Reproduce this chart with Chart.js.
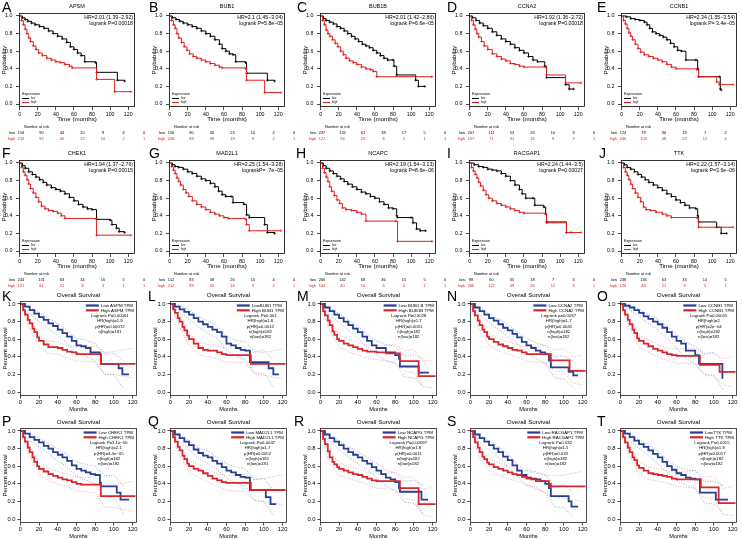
<!DOCTYPE html>
<html>
<head>
<meta charset="utf-8">
<title>Survival curves</title>
<script src="https://cdn.jsdelivr.net/npm/chart.js@4.4.1/dist/chart.umd.min.js"></script>
<style>
  html, body { margin: 0; padding: 0; background: #fff; }
  body { position: relative; width: 742px; height: 539px; overflow: hidden; }
  canvas { position: absolute; }
  .tag { position: absolute; font: 14px 'Liberation Sans', Arial, sans-serif; line-height: 14px; color: #000; }
</style>
</head>
<body>
<script>
// ---------- tick labels ----------
const monthTicks = [0, 20, 40, 60, 80, 100, 120];
const probTicks = [0, 0.2, 0.4, 0.6, 0.8, 1.0];
const ciMonths = [0, 10, 20, 30, 40, 50, 60, 70, 80, 90, 100, 110, 120];

// ---------- KM plotter panels (A-J) ----------
const kmLetters = ['A', 'B', 'C', 'D', 'E', 'F', 'G', 'H', 'I', 'J'];
const kmGenes = ['APSM', 'BUB1', 'BUB1B', 'CCNA2', 'CCNB1', 'CHEK1', 'MAD2L1', 'NCAPC', 'RACGAP1', 'TTK'];
const kmHR = ['HR=2.01 (1.39\u22122.92)', 'HR=2.1 (1.45\u22123.04)', 'HR=2.01 (1.42\u22122.86)', 'HR=1.92 (1.36\u22122.72)', 'HR=2.34 (1.55\u22123.54)',
  'HR=1.94 (1.37\u22122.76)', 'HR=2.25 (1.54\u22123.28)', 'HR=2.19 (1.54\u22123.13)', 'HR=2.24 (1.44\u22123.5)', 'HR=2.22 (1.57\u22123.14)'];
const kmP = ['logrank P=0.00018', 'logrank P=5.8e\u221205', 'logrank P=6.6e\u221205', 'logrank P=0.00018', 'logrank P= 3.4e\u221205',
  'logrank P=0.00015', 'logrankP= .7e\u221205', 'logrank P=8.6e\u221206', 'logrank P=0.00027', 'logrank P=3.6e\u221206'];
const riskLow = [
  [154, 90, 44, 20, 9, 4, 0], [156, 90, 46, 23, 10, 4, 0], [237, 126, 61, 38, 17, 5, 0], [207, 111, 53, 26, 10, 3, 0], [124, 79, 36, 19, 7, 2, 0],
  [243, 131, 63, 34, 16, 5, 0], [152, 83, 49, 26, 10, 4, 0], [260, 142, 68, 36, 15, 5, 0], [98, 60, 35, 18, 7, 3, 0], [238, 134, 63, 33, 14, 5, 0]];
const riskHigh = [
  [210, 92, 40, 22, 10, 2, 1], [206, 89, 38, 19, 9, 2, 1], [127, 56, 23, 6, 2, 1, 1], [157, 71, 31, 16, 9, 3, 1], [240, 103, 48, 23, 12, 4, 1],
  [121, 61, 21, 8, 3, 1, 1], [212, 99, 35, 16, 9, 2, 1], [104, 40, 16, 6, 4, 1, 1], [266, 122, 49, 26, 12, 3, 1], [126, 48, 21, 9, 5, 1, 1]];

// survival curves: [month, probability after the step]
const apsmLow = [[0,1],[3,0.98],[6,0.96],[9,0.94],[13,0.92],[17,0.90],[22,0.88],[27,0.86],[32,0.83],[37,0.80],[42,0.77],[47,0.74],[52,0.70],[56,0.65],[60,0.62],[64,0.58],[68,0.55],[72,0.48],[84,0.47],[85,0.36],[108,0.27],[116,0.26]];
const apsmHigh = [[0,1],[2,0.95],[4,0.90],[6,0.85],[8,0.80],[10,0.75],[12,0.71],[15,0.66],[18,0.62],[21,0.58],[25,0.55],[30,0.52],[35,0.50],[40,0.48],[45,0.47],[50,0.45],[55,0.43],[58,0.41],[85,0.28],[105,0.14],[123,0.14]];
const bub1Low = [[0,1],[3,0.98],[7,0.96],[11,0.94],[15,0.92],[20,0.90],[25,0.88],[30,0.86],[35,0.83],[40,0.80],[45,0.77],[50,0.73],[55,0.68],[58,0.63],[62,0.60],[66,0.57],[70,0.56],[73,0.48],[84,0.47],[85,0.35],[108,0.27],[116,0.26]];
const bub1High = [[0,1],[2,0.95],[4,0.90],[6,0.86],[8,0.80],[10,0.75],[13,0.70],[16,0.65],[19,0.61],[22,0.57],[26,0.54],[30,0.52],[35,0.50],[40,0.48],[45,0.46],[50,0.44],[55,0.42],[58,0.41],[84,0.40],[85,0.27],[105,0.13],[123,0.13]];
const bub1bLow = [[0,1],[3,0.97],[6,0.95],[10,0.93],[14,0.91],[18,0.88],[22,0.86],[26,0.83],[30,0.80],[34,0.77],[38,0.74],[42,0.71],[46,0.68],[50,0.66],[54,0.64],[58,0.61],[62,0.58],[66,0.55],[70,0.52],[74,0.50],[80,0.50],[81,0.43],[84,0.33],[105,0.27],[108,0.20],[115,0.20]];
const bub1bHigh = [[0,1],[2,0.95],[4,0.90],[6,0.84],[8,0.80],[10,0.77],[13,0.73],[16,0.69],[19,0.65],[22,0.60],[25,0.56],[28,0.52],[32,0.49],[36,0.47],[40,0.45],[45,0.42],[50,0.40],[55,0.39],[58,0.37],[62,0.31],[123,0.31]];
const ccna2Low = [[0,1],[3,0.98],[7,0.95],[11,0.92],[15,0.89],[20,0.86],[25,0.82],[30,0.78],[35,0.74],[40,0.71],[45,0.68],[50,0.64],[55,0.61],[60,0.58],[65,0.54],[70,0.50],[75,0.48],[83,0.43],[85,0.30],[106,0.22],[110,0.17],[115,0.17]];
const ccna2High = [[0,1],[2,0.95],[4,0.90],[6,0.85],[8,0.80],[10,0.76],[13,0.71],[16,0.66],[20,0.62],[25,0.57],[30,0.54],[35,0.51],[40,0.49],[45,0.46],[50,0.45],[55,0.43],[60,0.42],[84,0.42],[85,0.33],[106,0.24],[123,0.24]];
const ccnb1Low = [[0,1],[5,0.99],[10,0.97],[15,0.96],[20,0.95],[25,0.93],[28,0.90],[31,0.86],[34,0.82],[38,0.80],[42,0.78],[46,0.76],[50,0.73],[54,0.69],[58,0.65],[62,0.61],[66,0.60],[71,0.50],[82,0.50],[84,0.40],[85,0.31],[108,0.31],[109,0.17],[110,0.16]];
const ccnb1High = [[0,1],[2,0.95],[4,0.91],[6,0.86],[8,0.81],[10,0.77],[12,0.73],[15,0.68],[18,0.63],[21,0.59],[25,0.56],[30,0.54],[35,0.52],[40,0.50],[45,0.48],[50,0.45],[55,0.42],[60,0.40],[83,0.39],[85,0.31],[105,0.25],[108,0.22],[123,0.22]];
const chek1Low = [[0,1],[3,0.97],[6,0.94],[10,0.90],[14,0.87],[18,0.84],[22,0.81],[26,0.78],[30,0.75],[35,0.72],[40,0.70],[45,0.68],[50,0.65],[55,0.61],[60,0.57],[65,0.53],[70,0.50],[75,0.48],[80,0.47],[85,0.36],[100,0.35],[102,0.30],[107,0.26],[110,0.22],[116,0.21]];
const chek1High = [[0,1],[2,0.95],[4,0.90],[6,0.86],[8,0.81],[10,0.76],[12,0.71],[15,0.66],[18,0.61],[21,0.56],[24,0.51],[28,0.48],[32,0.46],[37,0.45],[42,0.43],[46,0.40],[50,0.37],[85,0.18],[123,0.18]];
const mad2l1Low = [[0,1],[3,0.98],[6,0.96],[10,0.95],[15,0.93],[20,0.90],[25,0.88],[30,0.85],[35,0.82],[40,0.80],[45,0.77],[50,0.73],[54,0.68],[58,0.64],[62,0.62],[68,0.62],[70,0.55],[82,0.53],[85,0.41],[88,0.38],[105,0.30],[108,0.21],[116,0.20]];
const mad2l1High = [[0,1],[2,0.96],[4,0.92],[6,0.88],[8,0.83],[10,0.79],[12,0.75],[15,0.70],[18,0.66],[21,0.62],[25,0.57],[30,0.53],[35,0.50],[40,0.47],[45,0.44],[50,0.42],[55,0.40],[60,0.38],[65,0.37],[84,0.36],[85,0.30],[88,0.23],[123,0.23]];
const ncapcLow = [[0,1],[3,0.97],[6,0.94],[10,0.91],[14,0.88],[18,0.85],[22,0.82],[26,0.79],[30,0.76],[35,0.73],[40,0.70],[45,0.67],[50,0.65],[55,0.62],[60,0.60],[65,0.56],[70,0.53],[75,0.49],[80,0.48],[84,0.40],[85,0.38],[100,0.38],[102,0.32],[106,0.25],[110,0.23],[116,0.23]];
const ncapcHigh = [[0,1],[2,0.94],[4,0.89],[6,0.84],[8,0.79],[10,0.73],[12,0.68],[15,0.63],[18,0.58],[21,0.54],[24,0.49],[28,0.47],[34,0.46],[40,0.44],[45,0.42],[50,0.34],[83,0.34],[85,0.11],[123,0.11]];
const racgap1Low = [[0,1],[5,0.98],[10,0.96],[15,0.95],[20,0.93],[25,0.92],[30,0.91],[35,0.88],[40,0.85],[45,0.80],[50,0.75],[55,0.70],[58,0.65],[62,0.60],[70,0.60],[72,0.52],[82,0.50],[84,0.42],[85,0.33],[107,0.21],[112,0.21]];
const racgap1High = [[0,1],[2,0.95],[4,0.91],[6,0.87],[8,0.83],[10,0.78],[12,0.74],[15,0.69],[18,0.64],[21,0.60],[25,0.57],[30,0.54],[35,0.52],[40,0.50],[45,0.48],[50,0.46],[55,0.44],[60,0.43],[84,0.42],[85,0.32],[107,0.21],[123,0.21]];
const ttkLow = [[0,1],[3,0.98],[6,0.95],[10,0.93],[14,0.90],[18,0.87],[22,0.84],[26,0.81],[30,0.78],[35,0.75],[40,0.72],[45,0.69],[50,0.65],[55,0.62],[60,0.58],[65,0.55],[70,0.52],[75,0.49],[82,0.48],[84,0.40],[85,0.33],[105,0.27],[110,0.20],[116,0.20]];
const ttkHigh = [[0,1],[2,0.95],[4,0.90],[6,0.86],[8,0.81],[10,0.76],[12,0.71],[15,0.66],[18,0.61],[21,0.56],[24,0.50],[27,0.47],[32,0.46],[38,0.44],[45,0.42],[50,0.40],[55,0.38],[84,0.37],[85,0.27],[123,0.27]];

const kmLow = [apsmLow, bub1Low, bub1bLow, ccna2Low, ccnb1Low, chek1Low, mad2l1Low, ncapcLow, racgap1Low, ttkLow];
const kmHigh = [apsmHigh, bub1High, bub1bHigh, ccna2High, ccnb1High, chek1High, mad2l1High, ncapcHigh, racgap1High, ttkHigh];

// ---------- GEPIA panels (K-T) ----------
const gLetters = ['K', 'L', 'M', 'N', 'O', 'P', 'Q', 'R', 'S', 'T'];
const gLegendLow = ['Low ASPM TPM', 'LowBUB1 TPM', 'Low BUB1 B TPM', 'Low CCNA2 TPM', 'Low CCNB1 TPM', 'Low CHEK1 TPM', 'Low MAD2L1 TPM', 'Low NCAPG TPM', 'Low RACGAP1 TPM', 'LowTTK TPM'];
const gLegendHigh = ['High ASPM TPM', 'High BUB1 TPM', 'High BUB1B TPM', 'High CCNA2 TPM', 'High CCNB1 TPM', 'High CHEK1 TPM', 'High MAD2L1 TPM', 'High NCAPG TPM', 'High RACGAP1 TPM', 'High TTK TPM'];
const gStats = [
  ['Logrank P=0.00061', 'HR(high)=1.9', 'p(HR)=0.00072', 'n(high)=181'],
  ['Logrank P=0.001', 'HR(high)=1.8', 'p(HR)=0.0012', 'n(high)=182', 'n(low)=182'],
  ['Logrank P=0.0028', 'HR(high)=1.7', 'p(HR)=0.0031', 'n(high)=182', 'n(low)=182'],
  ['Logrank p=0.0037', 'HR(high)=1.7', 'p(HR)=0.0041', 'n(high)=182', 'n(low)=182'],
  ['Logrank P=0.00015', 'HR(high)=2', 'p(HR)=2e\u221204', 'n(high)=182', 'n(low)=182'],
  ['Logrank P=3.1e\u221205', 'HR(high)=2.1', 'p(HR)=4.4e\u221205', 'n(high)=182', 'n(low)=182'],
  ['Logrank P=0.0047', 'HR(high)=1.7', 'p(HR)=0.0052', 'n(high)=181', 'n(low)=181'],
  ['Logrank P=0.00097', 'HR(high)=1.8', 'p(HR)=0.0011', 'n(high)=182', 'n(low)=182'],
  ['Logrank P=0.032', 'HR(high)=1.5', 'p(HR)=0.033', 'n(high)=182', 'n(low)=182'],
  ['Logrank P=0.0015', 'HR(high)=1.8', 'p(HR)=0.0017', 'n(high)=182', 'n(low)=182']];

const aspmG = [[0,1],[5,0.97],[10,0.93],[15,0.89],[20,0.85],[25,0.82],[30,0.78],[35,0.75],[40,0.71],[45,0.67],[50,0.63],[55,0.58],[60,0.53],[65,0.52],[70,0.50],[75,0.45],[85,0.43],[86,0.32],[105,0.27],[109,0.20],[116,0.20]];
const aspmGHigh = [[0,1],[3,0.93],[5,0.88],[8,0.82],[10,0.78],[13,0.72],[15,0.68],[18,0.62],[20,0.58],[25,0.54],[30,0.51],[40,0.50],[45,0.48],[50,0.46],[55,0.45],[60,0.43],[86,0.32],[123,0.32]];
const bub1G = [[0,1],[5,0.97],[10,0.94],[15,0.91],[20,0.88],[25,0.84],[30,0.80],[35,0.77],[40,0.74],[45,0.71],[50,0.68],[55,0.63],[60,0.55],[65,0.53],[70,0.50],[75,0.48],[80,0.47],[85,0.34],[105,0.27],[110,0.20],[116,0.20]];
const bub1GHigh = [[0,1],[3,0.94],[5,0.90],[8,0.84],[10,0.80],[13,0.74],[15,0.70],[18,0.64],[20,0.60],[25,0.55],[30,0.50],[35,0.48],[40,0.47],[50,0.45],[55,0.43],[60,0.42],[86,0.32],[123,0.32]];
const bub1bG = [[0,1],[5,0.96],[10,0.92],[15,0.88],[20,0.84],[25,0.80],[30,0.76],[35,0.72],[40,0.68],[45,0.63],[50,0.58],[55,0.53],[60,0.50],[70,0.45],[80,0.42],[84,0.38],[85,0.29],[105,0.22],[116,0.22]];
const bub1bGHigh = [[0,1],[3,0.92],[5,0.87],[8,0.81],[10,0.76],[13,0.69],[15,0.65],[18,0.60],[20,0.58],[25,0.55],[30,0.53],[35,0.51],[40,0.49],[45,0.47],[50,0.46],[60,0.45],[70,0.44],[85,0.35],[105,0.18],[123,0.18]];
const ccna2G = [[0,1],[5,0.96],[10,0.92],[15,0.88],[20,0.84],[25,0.81],[30,0.77],[35,0.73],[40,0.70],[45,0.66],[50,0.62],[55,0.57],[60,0.53],[65,0.50],[70,0.47],[75,0.45],[80,0.43],[84,0.36],[86,0.28],[105,0.23],[110,0.19],[115,0.19]];
const ccna2GHigh = [[0,1],[3,0.92],[5,0.87],[8,0.81],[10,0.76],[13,0.71],[15,0.68],[18,0.63],[20,0.60],[25,0.57],[30,0.54],[35,0.52],[40,0.50],[45,0.48],[50,0.47],[55,0.45],[60,0.43],[84,0.43],[86,0.36],[106,0.24],[123,0.24]];
const ccnb1G = [[0,1],[5,0.98],[10,0.96],[15,0.93],[20,0.90],[25,0.86],[30,0.83],[35,0.80],[40,0.77],[45,0.73],[50,0.68],[55,0.63],[60,0.58],[65,0.55],[70,0.47],[80,0.42],[84,0.32],[108,0.32],[109,0.16],[110,0.16]];
const ccnb1GHigh = [[0,1],[3,0.93],[5,0.88],[8,0.82],[10,0.77],[13,0.71],[15,0.67],[18,0.61],[20,0.58],[25,0.55],[30,0.52],[35,0.49],[40,0.47],[45,0.45],[50,0.43],[55,0.42],[60,0.41],[84,0.41],[85,0.31],[106,0.23],[123,0.23]];
const chek1G = [[0,1],[5,0.97],[10,0.93],[15,0.90],[20,0.87],[25,0.83],[30,0.80],[35,0.76],[40,0.73],[45,0.70],[50,0.66],[55,0.61],[60,0.57],[65,0.55],[70,0.53],[75,0.51],[80,0.50],[85,0.41],[86,0.37],[103,0.30],[107,0.22],[116,0.22]];
const chek1GHigh = [[0,1],[3,0.93],[5,0.88],[8,0.81],[10,0.76],[13,0.70],[15,0.65],[18,0.60],[20,0.57],[25,0.54],[30,0.51],[35,0.49],[40,0.47],[45,0.45],[50,0.44],[55,0.42],[60,0.40],[65,0.39],[86,0.26],[123,0.26]];
const mad2l1G = [[0,1],[5,0.96],[10,0.92],[15,0.88],[20,0.84],[25,0.79],[30,0.75],[35,0.72],[40,0.70],[45,0.66],[50,0.63],[55,0.59],[60,0.55],[65,0.53],[70,0.50],[75,0.48],[80,0.47],[85,0.33],[102,0.25],[107,0.17],[113,0.17]];
const mad2l1GHigh = [[0,1],[3,0.93],[5,0.88],[8,0.82],[10,0.78],[13,0.72],[15,0.68],[18,0.63],[20,0.60],[25,0.57],[30,0.55],[35,0.52],[40,0.49],[45,0.46],[50,0.44],[55,0.42],[60,0.41],[86,0.33],[123,0.33]];
const ncapgG = [[0,1],[5,0.96],[10,0.92],[15,0.88],[20,0.84],[25,0.80],[30,0.76],[35,0.73],[40,0.70],[45,0.66],[50,0.63],[55,0.59],[60,0.55],[65,0.51],[70,0.47],[75,0.45],[80,0.42],[84,0.35],[85,0.31],[108,0.22],[115,0.22]];
const ncapgGHigh = [[0,1],[3,0.91],[5,0.85],[8,0.77],[10,0.70],[13,0.65],[15,0.62],[18,0.59],[20,0.57],[25,0.55],[30,0.53],[35,0.51],[40,0.50],[45,0.48],[50,0.46],[55,0.44],[60,0.43],[84,0.43],[85,0.35],[105,0.17],[123,0.17]];
const racgap1G = [[0,1],[5,0.96],[10,0.92],[15,0.88],[20,0.84],[25,0.80],[30,0.76],[35,0.71],[40,0.67],[45,0.61],[50,0.55],[55,0.50],[60,0.47],[65,0.46],[70,0.45],[75,0.43],[80,0.40],[84,0.35],[86,0.26],[105,0.20],[108,0.14],[115,0.14]];
const racgap1GHigh = [[0,1],[3,0.93],[5,0.87],[8,0.81],[10,0.76],[13,0.71],[15,0.68],[18,0.64],[20,0.62],[25,0.59],[30,0.57],[35,0.55],[40,0.53],[45,0.51],[50,0.50],[55,0.48],[60,0.46],[65,0.45],[70,0.43],[84,0.40],[86,0.37],[123,0.37]];
const ttkG = [[0,1],[5,0.97],[10,0.93],[15,0.89],[20,0.85],[25,0.82],[30,0.78],[35,0.74],[40,0.70],[45,0.65],[50,0.60],[55,0.56],[60,0.52],[65,0.50],[70,0.47],[75,0.46],[80,0.45],[85,0.30],[102,0.22],[115,0.22]];
const ttkGHigh = [[0,1],[3,0.93],[5,0.87],[8,0.81],[10,0.76],[13,0.70],[15,0.67],[18,0.61],[20,0.58],[25,0.55],[30,0.52],[35,0.51],[40,0.50],[45,0.49],[50,0.48],[55,0.46],[60,0.45],[84,0.45],[86,0.36],[105,0.18],[123,0.18]];

// 95% bands, read at ciMonths (null = past the end of the curve)
const aspmLowUp = [1, 0.97, 0.90, 0.84, 0.78, 0.70, 0.61, 0.59, 0.55, 0.44, 0.44, 0.36, null];
const aspmLowDn = [1, 0.89, 0.80, 0.72, 0.64, 0.56, 0.45, 0.41, 0.35, 0.20, 0.20, 0.04, null];
const aspmHighUp = [1, 0.84, 0.65, 0.58, 0.57, 0.53, 0.51, 0.51, 0.52, 0.45, 0.46, 0.48, 0.50];
const aspmHighDn = [1, 0.72, 0.51, 0.44, 0.43, 0.39, 0.35, 0.35, 0.34, 0.21, 0.20, 0.18, 0.16];
const bub1LowUp = [1, 0.98, 0.93, 0.86, 0.81, 0.75, 0.63, 0.59, 0.57, 0.46, 0.47, 0.36, null];
const bub1LowDn = [1, 0.90, 0.83, 0.74, 0.67, 0.61, 0.47, 0.41, 0.37, 0.22, 0.21, 0.06, null];
const bub1HighUp = [1, 0.86, 0.67, 0.57, 0.54, 0.52, 0.50, 0.50, 0.51, 0.44, 0.45, 0.47, 0.49];
const bub1HighDn = [1, 0.74, 0.53, 0.43, 0.40, 0.38, 0.34, 0.34, 0.33, 0.20, 0.19, 0.17, 0.15];
const bub1bLowUp = [1, 0.96, 0.89, 0.82, 0.75, 0.65, 0.58, 0.54, 0.52, 0.41, 0.42, 0.38, null];
const bub1bLowDn = [1, 0.88, 0.79, 0.70, 0.61, 0.51, 0.42, 0.36, 0.32, 0.17, 0.16, 0.06, null];
const bub1bHighUp = [1, 0.82, 0.65, 0.60, 0.56, 0.53, 0.53, 0.53, 0.54, 0.47, 0.48, 0.35, 0.36];
const bub1bHighDn = [1, 0.70, 0.51, 0.46, 0.42, 0.39, 0.37, 0.35, 0.34, 0.23, 0.22, 0.06, 0.05];
const ccna2LowUp = [1, 0.96, 0.89, 0.83, 0.77, 0.69, 0.61, 0.56, 0.53, 0.40, 0.41, 0.35, null];
const ccna2LowDn = [1, 0.88, 0.79, 0.71, 0.63, 0.55, 0.45, 0.38, 0.33, 0.16, 0.15, 0.05, null];
const ccna2HighUp = [1, 0.82, 0.67, 0.61, 0.57, 0.54, 0.51, 0.52, 0.53, 0.48, 0.49, 0.40, 0.42];
const ccna2HighDn = [1, 0.70, 0.53, 0.47, 0.43, 0.40, 0.35, 0.34, 0.33, 0.24, 0.23, 0.10, 0.08];
const ccnb1LowUp = [1, 0.99, 0.94, 0.88, 0.83, 0.75, 0.66, 0.56, 0.52, 0.44, 0.45, 0.34, null];
const ccnb1LowDn = [1, 0.93, 0.86, 0.78, 0.71, 0.61, 0.50, 0.38, 0.32, 0.20, 0.19, 0.02, null];
const ccnb1HighUp = [1, 0.83, 0.65, 0.59, 0.54, 0.50, 0.49, 0.49, 0.50, 0.43, 0.44, 0.38, 0.40];
const ccnb1HighDn = [1, 0.71, 0.51, 0.45, 0.40, 0.36, 0.33, 0.33, 0.32, 0.19, 0.18, 0.08, 0.06];
const chek1LowUp = [1, 0.97, 0.92, 0.86, 0.80, 0.73, 0.65, 0.62, 0.60, 0.49, 0.50, 0.38, null];
const chek1LowDn = [1, 0.89, 0.82, 0.74, 0.66, 0.59, 0.49, 0.44, 0.40, 0.25, 0.24, 0.06, null];
const chek1HighUp = [1, 0.82, 0.64, 0.58, 0.54, 0.51, 0.48, 0.47, 0.48, 0.38, 0.39, 0.41, 0.43];
const chek1HighDn = [1, 0.70, 0.50, 0.44, 0.40, 0.37, 0.32, 0.31, 0.30, 0.14, 0.13, 0.11, 0.09];
const mad2l1LowUp = [1, 0.96, 0.89, 0.81, 0.77, 0.70, 0.63, 0.59, 0.57, 0.45, 0.46, 0.33, null];
const mad2l1LowDn = [1, 0.88, 0.79, 0.69, 0.63, 0.56, 0.47, 0.41, 0.37, 0.21, 0.20, 0.04, null];
const mad2l1HighUp = [1, 0.84, 0.67, 0.62, 0.56, 0.51, 0.49, 0.50, 0.51, 0.45, 0.46, 0.48, 0.50];
const mad2l1HighDn = [1, 0.72, 0.53, 0.48, 0.42, 0.37, 0.33, 0.32, 0.31, 0.21, 0.20, 0.18, 0.16];
const ncapgLowUp = [1, 0.96, 0.89, 0.82, 0.77, 0.70, 0.63, 0.56, 0.52, 0.43, 0.44, 0.38, null];
const ncapgLowDn = [1, 0.88, 0.79, 0.70, 0.63, 0.56, 0.47, 0.38, 0.32, 0.19, 0.18, 0.06, null];
const ncapgHighUp = [1, 0.77, 0.64, 0.60, 0.57, 0.53, 0.51, 0.52, 0.53, 0.47, 0.48, 0.34, 0.36];
const ncapgHighDn = [1, 0.63, 0.50, 0.46, 0.43, 0.39, 0.35, 0.34, 0.33, 0.23, 0.22, 0.04, 0.03];
const racgap1LowUp = [1, 0.96, 0.89, 0.82, 0.74, 0.62, 0.55, 0.54, 0.50, 0.38, 0.39, 0.30, null];
const racgap1LowDn = [1, 0.88, 0.79, 0.70, 0.60, 0.48, 0.39, 0.36, 0.30, 0.14, 0.13, 0.02, null];
const racgap1HighUp = [1, 0.82, 0.69, 0.64, 0.60, 0.57, 0.54, 0.52, 0.50, 0.49, 0.50, 0.52, 0.54];
const racgap1HighDn = [1, 0.70, 0.55, 0.50, 0.46, 0.43, 0.38, 0.34, 0.30, 0.25, 0.24, 0.22, 0.20];
const ttkLowUp = [1, 0.97, 0.90, 0.84, 0.77, 0.67, 0.60, 0.56, 0.55, 0.42, 0.43, 0.38, null];
const ttkLowDn = [1, 0.89, 0.80, 0.72, 0.63, 0.53, 0.44, 0.38, 0.35, 0.18, 0.17, 0.06, null];
const ttkHighUp = [1, 0.82, 0.65, 0.59, 0.57, 0.55, 0.53, 0.54, 0.55, 0.48, 0.49, 0.35, 0.37];
const ttkHighDn = [1, 0.70, 0.51, 0.45, 0.43, 0.41, 0.37, 0.36, 0.35, 0.24, 0.23, 0.05, 0.04];

const gLow = [aspmG, bub1G, bub1bG, ccna2G, ccnb1G, chek1G, mad2l1G, ncapgG, racgap1G, ttkG];
const gHigh = [aspmGHigh, bub1GHigh, bub1bGHigh, ccna2GHigh, ccnb1GHigh, chek1GHigh, mad2l1GHigh, ncapgGHigh, racgap1GHigh, ttkGHigh];
const gBands = [
  [aspmLowUp, aspmLowDn, aspmHighUp, aspmHighDn], [bub1LowUp, bub1LowDn, bub1HighUp, bub1HighDn],
  [bub1bLowUp, bub1bLowDn, bub1bHighUp, bub1bHighDn], [ccna2LowUp, ccna2LowDn, ccna2HighUp, ccna2HighDn],
  [ccnb1LowUp, ccnb1LowDn, ccnb1HighUp, ccnb1HighDn], [chek1LowUp, chek1LowDn, chek1HighUp, chek1HighDn],
  [mad2l1LowUp, mad2l1LowDn, mad2l1HighUp, mad2l1HighDn], [ncapgLowUp, ncapgLowDn, ncapgHighUp, ncapgHighDn],
  [racgap1LowUp, racgap1LowDn, racgap1HighUp, racgap1HighDn], [ttkLowUp, ttkLowDn, ttkHighUp, ttkHighDn]];

// ---------- layout ----------
const FONT = "'Liberation Sans', Arial, Helvetica, sans-serif";
const KM_RED = '#e0201c';
const G_BLUE = '#263f94';
const G_RED = '#d8262a';
const kmFrameX = [19, 169, 320, 469, 621];
const kmRowY = [0, 147];
const gFrameX = [20, 170, 320, 470, 620];
const gRowY = [287, 414];
const gRowH = [127, 125];
const letterX = [[2, 149, 297, 447, 597], [2, 149, 296, 447, 599], [2, 148, 297, 447, 597], [2, 148, 294, 447, 597]];
const letterY = [0, 146, 289, 414];

Chart.defaults.font.family = FONT;
Chart.defaults.color = '#000';

function addCanvas(x, y, w, h) {
  const c = document.createElement('canvas');
  c.width = w; c.height = h;
  c.style.left = x + 'px'; c.style.top = y + 'px';
  c.style.width = w + 'px'; c.style.height = h + 'px';
  document.body.appendChild(c);
  return c;
}

function addLetter(s, x, y) {
  const d = document.createElement('div');
  d.className = 'tag';
  d.textContent = s;
  d.style.left = x + 'px'; d.style.top = y + 'px';
  document.body.appendChild(d);
}

function txt(ctx, s, x, y, size, color, align) {
  ctx.font = size + 'px ' + FONT;
  ctx.fillStyle = color;
  ctx.textAlign = align || 'left';
  ctx.textBaseline = 'middle';
  ctx.fillText(s, x, y);
}

function scales(o) {
  const grid = { display: true, drawOnChartArea: false, drawTicks: true, tickLength: o.tickLen, color: '#000', lineWidth: 0.7 };
  return {
    x: {
      type: 'linear', min: o.xMin, max: o.xMax,
      afterFit: s => { s.height = o.xH; },
      afterBuildTicks: s => { s.ticks = monthTicks.map(v => ({ value: v })); },
      ticks: { font: { size: o.tickSize }, color: '#000', padding: o.xPad, maxRotation: 0, autoSkip: false, callback: v => String(v) },
      grid: grid,
      border: { display: false }
    },
    y: {
      type: 'linear', min: o.yMin, max: o.yMax,
      afterFit: s => { s.width = 22; },
      afterBuildTicks: s => { s.ticks = probTicks.map(v => ({ value: v })); },
      ticks: { font: { size: o.tickSize }, color: '#000', padding: o.yPad, autoSkip: false, callback: v => v.toFixed(1) },
      grid: grid,
      border: { display: false }
    }
  };
}

function kmDecor(i) {
  return {
    id: 'kmDecor',
    afterDraw(chart) {
      const ctx = chart.ctx, a = chart.chartArea;
      const mid = (a.left + a.right) / 2;
      ctx.save();
      ctx.strokeStyle = '#000'; ctx.lineWidth = 0.8;
      ctx.strokeRect(Math.round(a.left) + 0.5, Math.round(a.top) + 0.5, Math.round(a.right - a.left) - 1, Math.round(a.bottom - a.top) - 1);
      txt(ctx, kmGenes[i], mid, a.top - 6.5, 5.5, '#000', 'center');
      txt(ctx, kmHR[i], a.right - 2, a.top + 5, 5.2, '#000', 'right');
      txt(ctx, kmP[i], a.right - 2, a.top + 11, 5.2, '#000', 'right');
      // legend
      txt(ctx, 'Expression', a.left + 3, a.bottom - 13, 3.6, '#000', 'left');
      ctx.lineWidth = 1;
      ctx.strokeStyle = '#000';
      ctx.beginPath(); ctx.moveTo(a.left + 3, a.bottom - 8.5); ctx.lineTo(a.left + 10, a.bottom - 8.5); ctx.stroke();
      ctx.strokeStyle = KM_RED;
      ctx.beginPath(); ctx.moveTo(a.left + 3, a.bottom - 4.5); ctx.lineTo(a.left + 10, a.bottom - 4.5); ctx.stroke();
      txt(ctx, 'low', a.left + 12, a.bottom - 8.5, 2.8, '#000', 'left');
      txt(ctx, 'high', a.left + 12, a.bottom - 4.5, 2.8, '#000', 'left');
      // axis titles
      txt(ctx, 'Time (months)', mid, a.bottom + 12.5, 6.2, '#000', 'center');
      ctx.save();
      ctx.translate(a.left - 15, (a.top + a.bottom) / 2);
      ctx.rotate(-Math.PI / 2);
      txt(ctx, 'Probability', 0, 0, 6.2, '#000', 'center');
      ctx.restore();
      // number at risk
      txt(ctx, 'Number at risk', a.left + 5, a.bottom + 19.5, 3.9, '#000', 'left');
      const x0 = a.left + 2, step = 20.5;
      txt(ctx, 'low', x0 - 6, a.bottom + 25.5, 3.9, '#000', 'right');
      txt(ctx, 'high', x0 - 6, a.bottom + 31.5, 3.9, KM_RED, 'right');
      riskLow[i].forEach((n, k) => txt(ctx, String(n), x0 + k * step, a.bottom + 25.5, 3.9, '#000', 'center'));
      riskHigh[i].forEach((n, k) => txt(ctx, String(n), x0 + k * step, a.bottom + 31.5, 3.9, KM_RED, 'center'));
      ctx.restore();
    }
  };
}

function gDecor(i) {
  return {
    id: 'gDecor',
    afterDraw(chart) {
      const ctx = chart.ctx, a = chart.chartArea;
      const mid = (a.left + a.right) / 2;
      ctx.save();
      ctx.strokeStyle = '#222'; ctx.lineWidth = 0.8;
      ctx.strokeRect(Math.round(a.left) + 0.5, Math.round(a.top) + 0.5, Math.round(a.right - a.left) - 1, Math.round(a.bottom - a.top) - 1);
      txt(ctx, 'Overall Survival', mid, a.top - 5.5, 6.2, '#000', 'center');
      txt(ctx, 'Months', mid, a.bottom + 13, 5.6, '#000', 'center');
      ctx.save();
      ctx.translate(a.left - 15, (a.top + a.bottom) / 2);
      ctx.rotate(-Math.PI / 2);
      txt(ctx, 'Percent survival', 0, 0, 5.9, '#000', 'center');
      ctx.restore();
      // legend box
      ctx.font = '4.4px ' + FONT;
      const w = Math.max(ctx.measureText(gLegendLow[i]).width, ctx.measureText(gLegendHigh[i]).width);
      const tx = a.right - 3 - w;
      ctx.lineWidth = 2.2;
      ctx.strokeStyle = G_BLUE;
      ctx.beginPath(); ctx.moveTo(tx - 15, a.top + 4.5); ctx.lineTo(tx - 2, a.top + 4.5); ctx.stroke();
      ctx.strokeStyle = G_RED;
      ctx.beginPath(); ctx.moveTo(tx - 15, a.top + 9.3); ctx.lineTo(tx - 2, a.top + 9.3); ctx.stroke();
      txt(ctx, gLegendLow[i], tx, a.top + 4.5, 4.4, '#000', 'left');
      txt(ctx, gLegendHigh[i], tx, a.top + 9.3, 4.4, '#000', 'left');
      const cx = (tx - 15 + a.right - 3) / 2;
      gStats[i].forEach((s, k) => txt(ctx, s, cx, a.top + 14.6 + k * 5.4, 4.3, '#000', 'center'));
      ctx.restore();
    }
  };
}

function kmChart(i) {
  const col = i % 5, row = Math.floor(i / 5);
  const fx = kmFrameX[col];
  const c = addCanvas(fx - 22, kmRowY[row], 150, 147);
  const line = (data, color) => ({
    data: data, borderColor: color, borderWidth: 1, stepped: true, fill: false, tension: 0,
    pointStyle: 'cross', pointRadius: ctx => ctx.dataIndex > 0 ? 1.3 : 0, pointBorderColor: color,
    pointBorderWidth: 0.7, pointHoverRadius: 0
  });
  new Chart(c, {
    type: 'line',
    data: { datasets: [line(kmHigh[i], KM_RED), line(kmLow[i], '#000')] },
    options: {
      responsive: false, animation: false, events: [], devicePixelRatio: 1,
      layout: { padding: { left: 0, top: 13, right: 12, bottom: 0 } },
      plugins: { legend: { display: false }, tooltip: { enabled: false } },
      scales: scales({ xMin: -0.8, xMax: 127.5, yMin: -0.034, yMax: 1.034, xH: 40, tickLen: 3, tickSize: 5.3, xPad: 1, yPad: 3.6 })
    },
    plugins: [kmDecor(i)]
  });
}

function gChart(i) {
  const col = i % 5, row = Math.floor(i / 5);
  const fx = gFrameX[col];
  const h = gRowH[row];
  const c = addCanvas(fx - 22, gRowY[row], 150, h);
  const band = (vals, color) => ({
    data: ciMonths.map((m, k) => vals[k] === null ? null : { x: m, y: vals[k] }).filter(p => p),
    borderColor: color, borderWidth: 0.8, borderDash: [1, 1.6], pointRadius: 0, fill: false, tension: 0
  });
  const curve = (data, color) => ({
    data: data, borderColor: color, borderWidth: 1.8, stepped: true, fill: false, tension: 0, pointRadius: 0
  });
  const b = gBands[i];
  new Chart(c, {
    type: 'line',
    data: {
      datasets: [
        curve(gHigh[i], G_RED), curve(gLow[i], G_BLUE),
        band(b[0], '#7d8fcc'), band(b[1], '#7d8fcc'), band(b[2], '#ee9595'), band(b[3], '#ee9595')
      ]
    },
    options: {
      responsive: false, animation: false, events: [], devicePixelRatio: 1,
      layout: { padding: { left: 0, top: 14, right: 11, bottom: 0 } },
      plugins: { legend: { display: false }, tooltip: { enabled: false } },
      scales: scales({ xMin: -0.3, xMax: 124.6, yMin: -0.045, yMax: 1.034, xH: h - 14 - 95, tickLen: 2.5, tickSize: 5.8, xPad: 0.5, yPad: 2 })
    },
    plugins: [gDecor(i)]
  });
}

for (let i = 0; i < 10; i++) kmChart(i);
for (let i = 0; i < 10; i++) gChart(i);

for (let r = 0; r < 4; r++) {
  for (let c = 0; c < 5; c++) {
    const idx = r * 5 + c;
    const s = r < 2 ? kmLetters[idx] : gLetters[idx - 10];
    addLetter(s, letterX[r][c], letterY[r]);
  }
}
</script>
</body>
</html>
